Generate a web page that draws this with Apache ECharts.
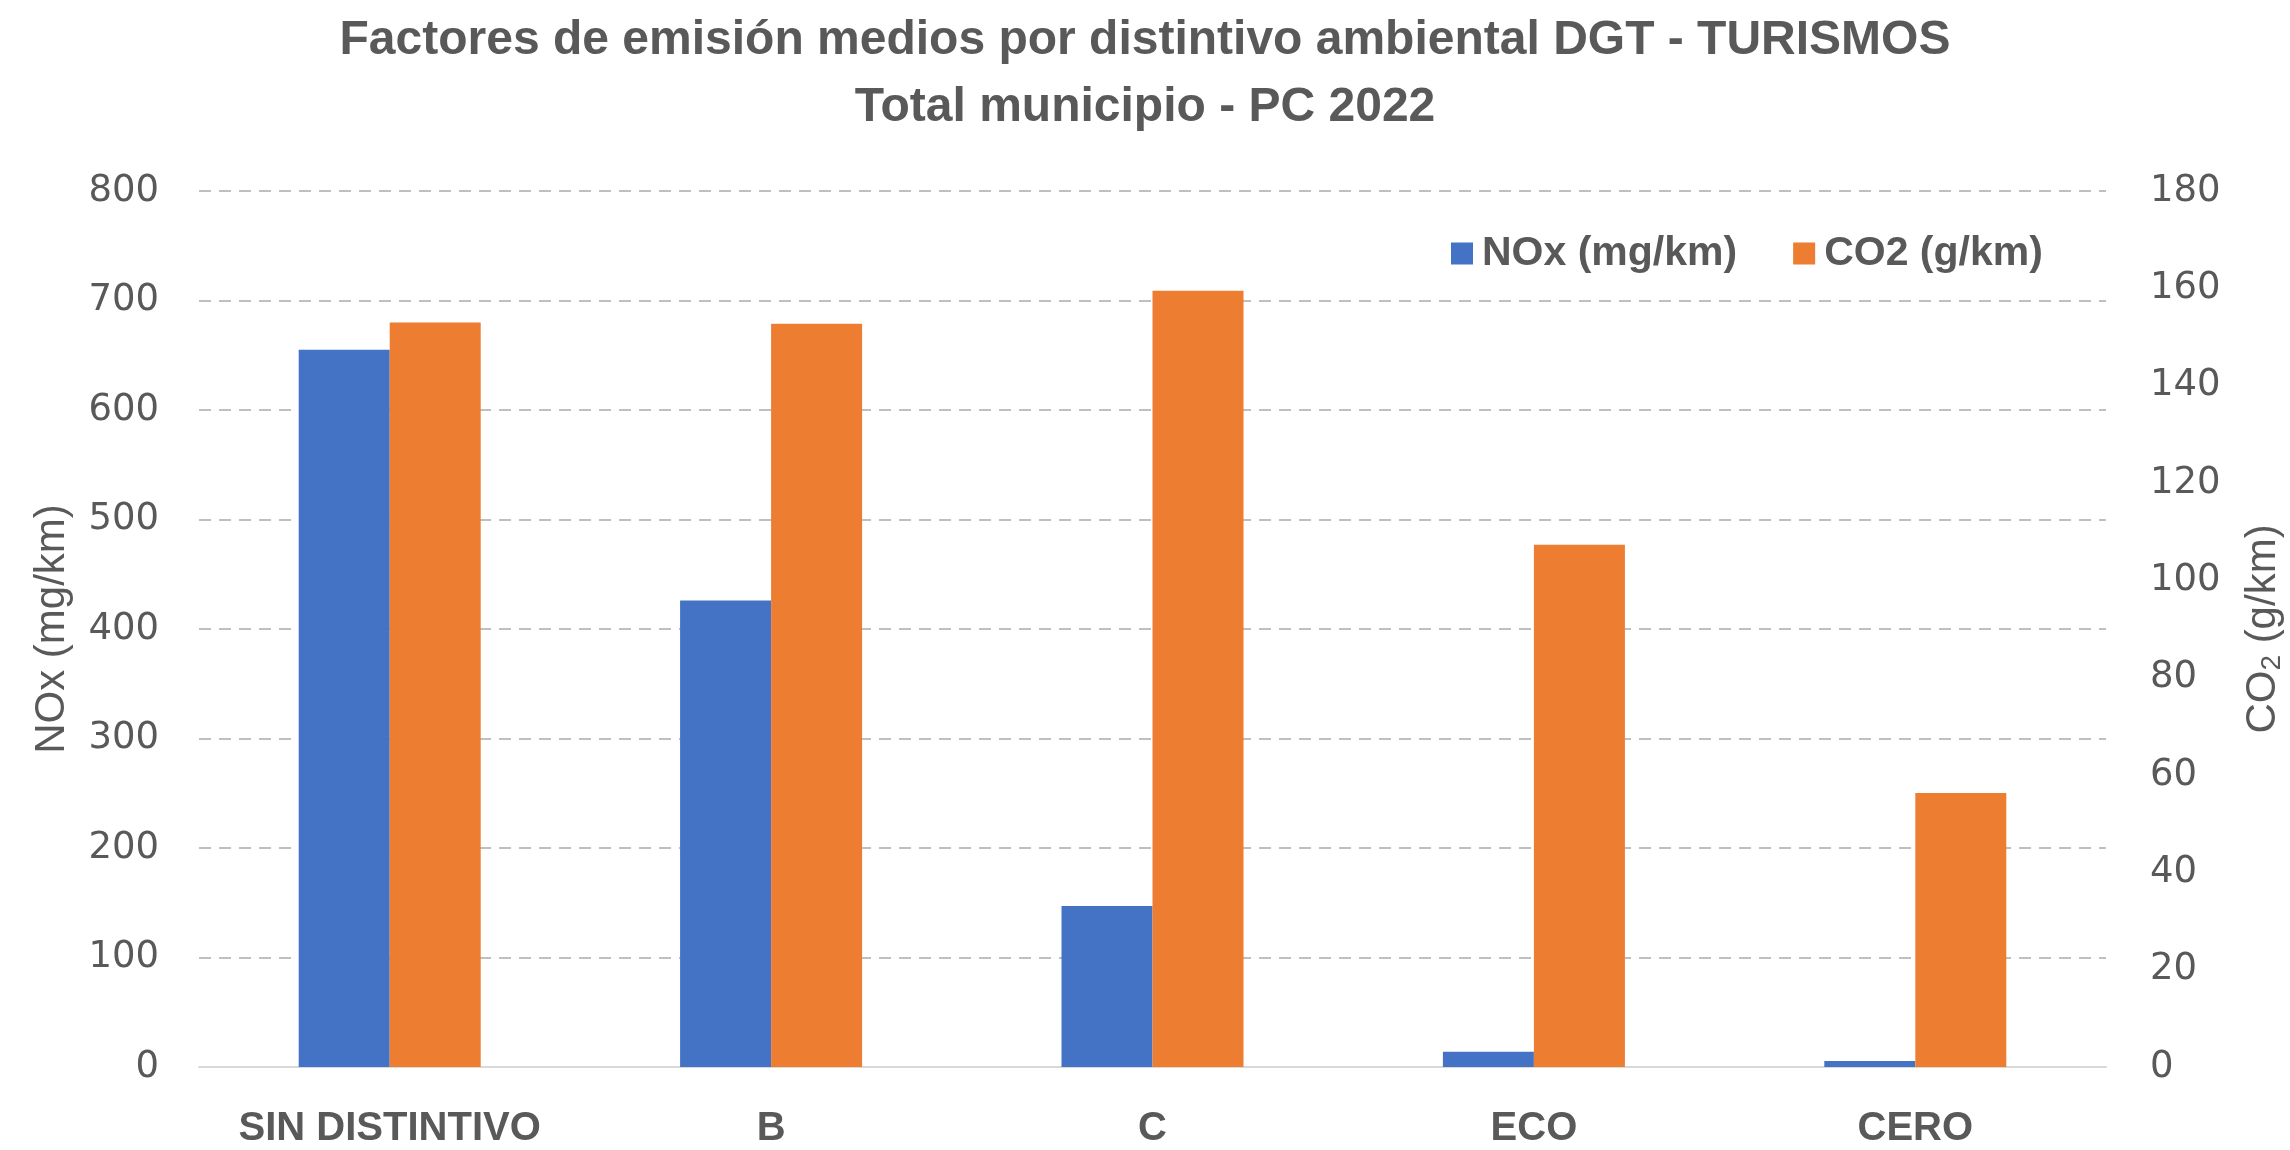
<!DOCTYPE html>
<html>
<head>
<meta charset="utf-8">
<script src="https://cdn.jsdelivr.net/npm/echarts@6/dist/echarts.min.js"></script>
<style>
  html, body { margin: 0; padding: 0; background: #ffffff; }
  #chart { width: 2290px; height: 1150px; }
</style>
</head>
<body>
<div id="chart"></div>
<script>
// Distintivos ambientales DGT (categorías del eje X)
const categories = ['SIN DISTINTIVO', 'B', 'C', 'ECO', 'CERO'];
// Factor medio de NOx (mg/km), eje izquierdo
const noxValues = [655, 426, 147, 14, 5.5];
// Factor medio de CO2 (g/km), eje derecho
const co2Values = [153, 152.7, 159.5, 107.3, 56.3];
// Marcas de los ejes
const noxTicks = { min: 0, max: 800, interval: 100 };
const co2Ticks = { min: 0, max: 180, interval: 20 };

const TEXT = '#595959';
const BOLD_FONT = "'Liberation Sans', sans-serif";
const NAME_FONT = "'Liberation Sans', sans-serif";
const TICK_FONT = "'DejaVu Sans', sans-serif";

const chart = echarts.init(document.getElementById('chart'), null, { renderer: 'canvas' });

chart.setOption({
  backgroundColor: '#ffffff',
  animation: false,
  title: {
    text: 'Factores de emisión medios por distintivo ambiental DGT - TURISMOS\nTotal municipio - PC 2022',
    left: 'center',
    top: 2,
    textStyle: {
      color: TEXT,
      fontFamily: BOLD_FONT,
      fontWeight: 'bold',
      fontSize: 48,
      lineHeight: 67
    }
  },
  legend: {
    data: ['NOx (mg/km)', 'CO2 (g/km)'],
    left: 1446,
    top: 228,
    itemWidth: 22,
    itemHeight: 22,
    itemGap: 56,
    icon: 'rect',
    textStyle: {
      color: TEXT,
      fontFamily: BOLD_FONT,
      fontWeight: 'bold',
      fontSize: 41,
      padding: [0, 0, 0, 4]
    }
  },
  grid: {
    left: 199,
    right: 184,
    top: 191,
    bottom: 83,
    containLabel: false,
    outerBoundsMode: 'none'
  },
  xAxis: {
    type: 'category',
    data: categories,
    axisLine: { show: true, lineStyle: { color: '#D9D9D9', width: 2 } },
    axisTick: { show: false },
    axisLabel: {
      interval: 0,
      color: TEXT,
      fontFamily: BOLD_FONT,
      fontWeight: 'bold',
      fontSize: 40,
      margin: 42
    }
  },
  yAxis: [
    {
      type: 'value',
      position: 'left',
      min: noxTicks.min,
      max: noxTicks.max,
      interval: noxTicks.interval,
      name: 'NOx (mg/km)',
      nameLocation: 'middle',
      nameRotate: 90,
      nameGap: 126,
      nameTextStyle: { color: TEXT, fontFamily: NAME_FONT, fontSize: 42 },
      axisLine: { show: false },
      axisTick: { show: false },
      axisLabel: { color: TEXT, fontFamily: TICK_FONT, fontSize: 37, margin: 40 },
      splitLine: { show: true, lineStyle: { color: '#BFBFBF', width: 2, type: [12, 8] } }
    },
    {
      type: 'value',
      position: 'right',
      min: co2Ticks.min,
      max: co2Ticks.max,
      interval: co2Ticks.interval,
      name: 'CO{sub|2} (g/km)',
      nameLocation: 'middle',
      nameRotate: 90,
      nameGap: 134,
      nameTextStyle: {
        color: TEXT,
        fontFamily: NAME_FONT,
        fontSize: 42,
        rich: {
          sub: {
            color: TEXT,
            fontFamily: NAME_FONT,
            fontSize: 28,
            verticalAlign: 'bottom',
            padding: [18, 0, 0, 0]
          }
        }
      },
      axisLine: { show: false },
      axisTick: { show: false },
      axisLabel: { color: TEXT, fontFamily: TICK_FONT, fontSize: 37, margin: 44 },
      splitLine: { show: false }
    }
  ],
  series: [
    {
      name: 'NOx (mg/km)',
      type: 'bar',
      yAxisIndex: 0,
      data: noxValues,
      barWidth: 91,
      barGap: '0%',
      itemStyle: { color: '#4472C4' }
    },
    {
      name: 'CO2 (g/km)',
      type: 'bar',
      yAxisIndex: 1,
      data: co2Values,
      barWidth: 91,
      barGap: '0%',
      itemStyle: { color: '#ED7D31' }
    }
  ]
});
</script>
</body>
</html>
